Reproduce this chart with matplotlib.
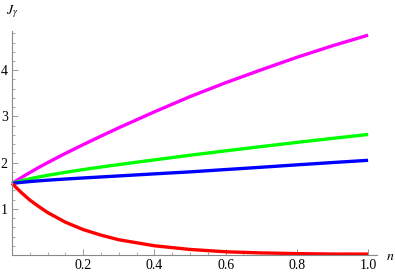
import matplotlib
matplotlib.use("Agg")
import matplotlib.pyplot as plt
from matplotlib.ticker import MultipleLocator

plt.rcParams['mathtext.fontset'] = 'stix'
plt.rcParams['font.family'] = ['Liberation Serif', 'DejaVu Serif']

n_vals = [0.0, 0.025, 0.05, 0.075, 0.1, 0.15, 0.2, 0.25, 0.3, 0.4, 0.5, 0.6, 0.7, 0.8, 0.9, 1.0]
magenta = [1.55, 1.67, 1.785, 1.895, 2.00, 2.20, 2.39, 2.575, 2.755, 3.10, 3.43, 3.73, 4.01, 4.28, 4.53, 4.76]
green = [1.55, 1.605, 1.65, 1.69, 1.725, 1.79, 1.85, 1.905, 1.958, 2.06, 2.16, 2.255, 2.347, 2.438, 2.525, 2.61]
blue = [1.55, 1.572, 1.59, 1.606, 1.62, 1.645, 1.668, 1.69, 1.712, 1.757, 1.80, 1.85, 1.90, 1.952, 2.002, 2.05]
red = [1.55, 1.36, 1.19, 1.05, 0.92, 0.71, 0.55, 0.43, 0.33, 0.20, 0.12, 0.07, 0.045, 0.03, 0.02, 0.02]

x_ticks = [0.2, 0.4, 0.6, 0.8, 1.0]
x_labels = ["0.2", "0.4", "0.6", "0.8", "1.0"]
y_ticks = [1, 2, 3, 4]
y_labels = ["1", "2", "3", "4"]

fig = plt.figure(figsize=(3.95, 2.76), dpi=100)
ax = fig.add_axes([12/395, 1-255/276, 365/395, 224/276])

for vals, col in [(magenta, '#FF00FF'), (green, '#00FF00'), (blue, '#0000FF'), (red, '#FF0000')]:
    ax.plot(n_vals, vals, color=col, lw=2.4, solid_capstyle='butt', clip_on=False)

ax.set_xlim(0, 1.025)
ax.set_ylim(0, 4.85)
for s in ['top', 'right']:
    ax.spines[s].set_visible(False)
for s in ['left', 'bottom']:
    ax.spines[s].set_color('#888888')
    ax.spines[s].set_linewidth(0.8)

ax.set_xticks(x_ticks)
ax.set_xticklabels(x_labels)
ax.set_yticks(y_ticks)
ax.set_yticklabels(y_labels)
ax.xaxis.set_minor_locator(MultipleLocator(0.05))
ax.yaxis.set_minor_locator(MultipleLocator(0.2))
ax.tick_params(which='major', direction='in', length=4, width=0.6, color='#888888', labelsize=10, pad=3)
ax.tick_params(which='minor', direction='in', length=2.2, width=0.5, color='#888888')

fig.text(390/395, 1-257/276, r'$n$', fontsize=10, ha='center', va='center')
fig.text(12/395, 1-12/276, r'$J_\gamma$', fontsize=10, ha='center', va='center')

fig.savefig('out.png', dpi=100)
